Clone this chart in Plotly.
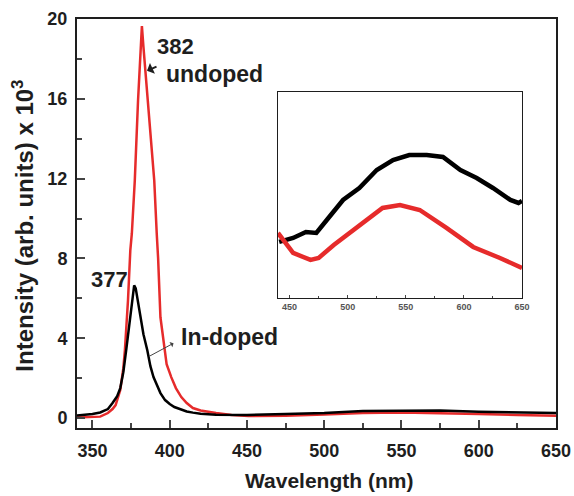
import plotly.graph_objects as go

# ---- main spectra (Intensity x10^3) ----
wl_undoped = [340, 345, 350, 355, 360, 363, 365, 368, 370, 371, 373, 374.5, 375.5, 377.4, 379.5, 381, 382,
              383, 386, 390, 391.6, 392.5, 394, 396.5, 398, 401, 404, 407.5, 411, 415, 420, 430, 440, 451,
              475, 500, 525, 550, 575, 600, 625, 650]
int_undoped = [0.03, 0.04, 0.05, 0.07, 0.25, 0.45, 0.65, 1.4, 2.5, 3.4, 5.9, 8.4, 9.25, 11.9, 15.9, 18.5, 19.65,
               18.6, 15.9, 11.9, 9.25, 8.0, 5.05, 3.4, 2.7, 2.05, 1.5, 1.05, 0.75, 0.5, 0.38, 0.25, 0.15, 0.1,
               0.12, 0.18, 0.25, 0.28, 0.25, 0.2, 0.15, 0.12]

wl_indoped = [340, 345, 350, 355, 360, 363, 366, 368, 370, 372, 374, 375.5, 377, 378, 379, 381, 383, 385.5,
              387.5, 389.5, 392, 394, 397, 400, 403, 407, 411, 415, 420, 430, 440, 450,
              475, 500, 525, 550, 575, 600, 625, 650]
int_indoped = [0.12, 0.15, 0.2, 0.28, 0.45, 0.75, 1.1, 1.5, 2.3, 3.5, 4.8, 5.9, 6.65, 6.5, 6.05, 5.05, 4.2, 3.4,
               2.6, 2.05, 1.6, 1.25, 0.9, 0.7, 0.55, 0.42, 0.33, 0.27, 0.22, 0.17, 0.15, 0.15,
               0.2, 0.25, 0.35, 0.38, 0.38, 0.32, 0.28, 0.25]

# ---- inset (visible band, arbitrary units) ----
wl_in_black = [441, 453, 464, 473, 482, 496, 510, 525, 539, 553, 568, 582, 597, 611, 625, 640, 647, 650]
v_in_black = [56, 60, 66, 65, 78, 98, 110, 128, 138, 143, 143, 141, 128, 120, 110, 98, 95, 97]
wl_in_red = [440, 453, 468, 475, 488, 510, 530, 545, 562, 585, 608, 631, 648, 650]
v_in_red = [65, 45, 38, 40, 53, 73, 90, 93, 88, 70, 51, 40, 31, 30]

main_ticks = [350, 400, 450, 500, 550, 600, 650]
y_ticks = [0, 4, 8, 12, 16, 20]
inset_ticks = [450, 500, 550, 600, 650]

RED = "#e62b2b"
FONT = "Liberation Sans, Arial, sans-serif"
TXT = "#1e1e1e"

fig = go.Figure()
fig.add_trace(go.Scatter(x=wl_undoped, y=int_undoped, mode="lines",
                         line=dict(color=RED, width=2.5), showlegend=False))
fig.add_trace(go.Scatter(x=wl_indoped, y=int_indoped, mode="lines",
                         line=dict(color="black", width=2.5), showlegend=False))
fig.add_trace(go.Scatter(x=wl_in_black, y=v_in_black, mode="lines", xaxis="x2", yaxis="y2",
                         line=dict(color="black", width=4.5), showlegend=False))
fig.add_trace(go.Scatter(x=wl_in_red, y=v_in_red, mode="lines", xaxis="x2", yaxis="y2",
                         line=dict(color=RED, width=4.5), showlegend=False))

fig.update_layout(
    template="none",
    width=574, height=496, autosize=False,
    margin=dict(l=77, r=18, t=19, b=68, pad=0),
    paper_bgcolor="white", plot_bgcolor="white",
    font=dict(family=FONT, color=TXT),
    xaxis=dict(range=[340, 650], tickvals=main_ticks, ticks="inside", ticklen=8, tickwidth=2,
               automargin=False,
               showline=True, linewidth=2, linecolor=TXT, mirror=True, showgrid=False, zeroline=False,
               tickfont=dict(size=18, weight="bold", family=FONT), ticklabelstandoff=5,
               minor=dict(tickvals=[375, 425, 475, 525, 575, 625], ticks="inside", ticklen=5, tickwidth=2)),
    yaxis=dict(range=[-0.5, 20], tickvals=y_ticks, ticks="inside", ticklen=8, tickwidth=2,
               automargin=False,
               showline=True, linewidth=2, linecolor=TXT, mirror=True, showgrid=False, zeroline=False,
               tickfont=dict(size=18, weight="bold", family=FONT), ticklabelstandoff=4,
               minor=dict(tickvals=[2, 6, 10, 14, 18], ticks="inside", ticklen=5, tickwidth=2)),
    xaxis2=dict(domain=[0.4196, 0.929], anchor="y2", range=[440, 650], tickvals=inset_ticks,
                automargin=False,
                ticks="inside", ticklen=3, tickwidth=1, showline=True, linewidth=1, linecolor=TXT,
                mirror=True, showgrid=False, zeroline=False,
                tickfont=dict(size=9, weight="bold", color="#555", family=FONT),
                minor=dict(tickvals=[475, 525, 575, 625], ticks="inside", ticklen=2, tickwidth=1)),
    yaxis2=dict(domain=[0.318, 0.8215], anchor="x2", range=[0, 206], showticklabels=False, ticks="",
                automargin=False,
                showline=True, linewidth=1, linecolor=TXT, mirror=True, showgrid=False, zeroline=False),
    shapes=[dict(type="rect", xref="x2 domain", yref="y2 domain", x0=0, x1=1, y0=0, y1=1,
                 fillcolor="white", line=dict(width=0), layer="below")],
    annotations=[
        dict(text="382", x=0.163, y=0.933, xref="paper", yref="paper", showarrow=False,
             font=dict(size=22, weight="bold", color=TXT), xanchor="left", yanchor="middle"),
        dict(text="undoped", x=0.182, y=0.866, xref="paper", yref="paper", showarrow=False,
             font=dict(size=23, weight="bold", color=TXT), xanchor="left", yanchor="middle"),
        dict(text="377", x=0.025, y=0.362, xref="paper", yref="paper", showarrow=False,
             font=dict(size=22, weight="bold", color=TXT), xanchor="left", yanchor="middle"),
        dict(text="In-doped", x=0.213, y=0.222, xref="paper", yref="paper", showarrow=False,
             font=dict(size=23, weight="bold", color=TXT), xanchor="left", yanchor="middle"),
        dict(x=385.3, y=17.4, xref="x", yref="y", ax=11, ay=-5, text="", showarrow=True,
             arrowhead=1, arrowsize=1, arrowwidth=2, arrowcolor=TXT),
        dict(x=402.5, y=3.75, xref="x", yref="y", ax=-26, ay=14, text="", showarrow=True,
             arrowhead=1, arrowsize=1, arrowwidth=1, arrowcolor="#444"),
        dict(text="Wavelength (nm)", x=0.526, y=-0.128, xref="paper", yref="paper", showarrow=False,
             font=dict(size=21, weight="bold", color=TXT), xanchor="center", yanchor="middle"),
        dict(text="Intensity (arb. units) x 10<sup>3</sup>", x=-0.1117, y=0.496, xref="paper", yref="paper",
             showarrow=False, textangle=-90,
             font=dict(size=24, weight="bold", color=TXT), xanchor="center", yanchor="middle"),
    ],
)

fig.write_html(
    "out.html",
    config={"displayModeBar": False, "responsive": False},
    post_script=("document.body.style.margin='0';document.body.style.overflow='hidden';"
                 "var gd=document.getElementById('{plot_id}');"
                 "Plotly.relayout(gd,{width:574,height:496});"),
)
